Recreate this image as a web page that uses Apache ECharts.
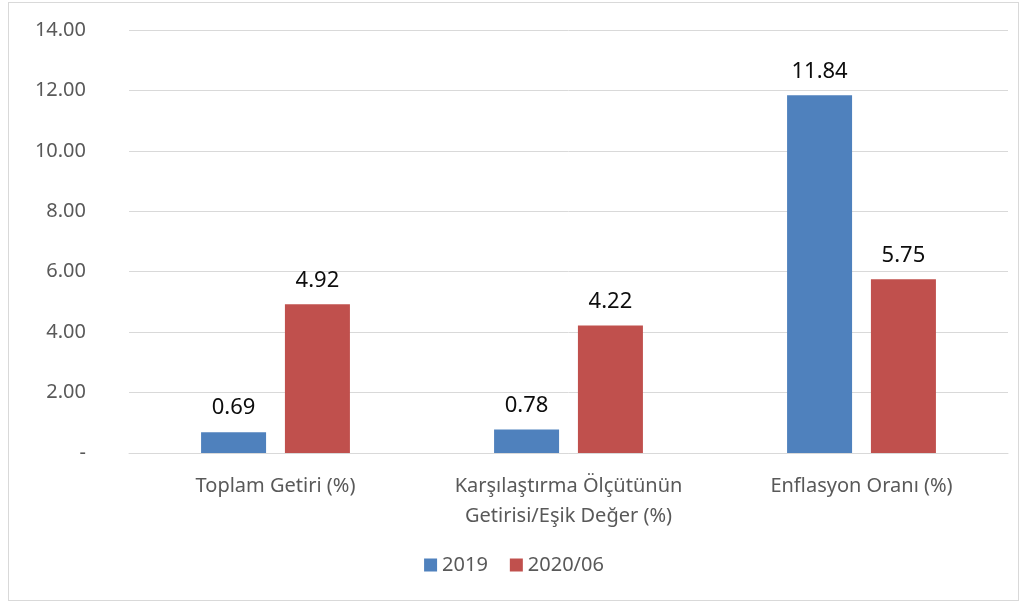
<!DOCTYPE html>
<html>
<head>
<meta charset="utf-8">
<script src="https://cdn.jsdelivr.net/npm/echarts@6/dist/echarts.min.js"></script>
<style>
  html, body { margin: 0; padding: 0; background: #fff; }
  #frame { position: absolute; left: 8px; top: 2px; width: 1011px; height: 599px; border: 1px solid #d9d9d9; box-sizing: border-box; }
  #chart { width: 1028px; height: 606px; }
</style>
</head>
<body>
<div id="frame"></div>
<div id="chart"></div>
<script>
var categories = ['Toplam Getiri (%)', 'Karşılaştırma Ölçütünün\nGetirisi/Eşik Değer (%)', 'Enflasyon Oranı (%)'];
var values2019 = [0.69, 0.78, 11.84];
var values2020 = [4.92, 4.22, 5.75];
var seriesNames = ['2019', '2020/06'];

var myChart = echarts.init(document.getElementById('chart'));
var font = '"Noto Sans", "Open Sans", sans-serif';
option = {
    textStyle: { fontFamily: font },
    legend: {
        data: seriesNames,
        bottom: 26,
        left: 'center',
        itemWidth: 13,
        itemHeight: 13,
        itemGap: 22,
        icon: 'rect',
        textStyle: { fontSize: 20, color: '#595959', fontFamily: font }
    },
    grid: { left: 129, right: 20, top: 30, bottom: 153 },
    xAxis: [
        {
            type: 'category',
            data: categories,
            axisTick: { show: false },
            axisLine: { lineStyle: { color: '#d9d9d9' } },
            axisLabel: { interval: 0, color: '#595959', fontSize: 20, margin: 18, lineHeight: 30, fontFamily: font }
        }
    ],
    yAxis: [
        {
            type: 'value',
            min: 0,
            max: 14,
            interval: 2,
            axisLine: { show: false },
            axisTick: { show: false },
            splitLine: { lineStyle: { color: '#d9d9d9', width: 1 } },
            axisLabel: {
                color: '#595959',
                fontSize: 20,
                margin: 43,
                fontFamily: font,
                formatter: function (value) {
                    return value === 0 ? '-' : value.toFixed(2);
                }
            }
        }
    ],
    series: [
        {
            name: seriesNames[0],
            type: 'bar',
            barWidth: 65,
            barGap: '29%',
            itemStyle: { color: '#4f81bd' },
            label: { show: true, position: 'top', distance: 13, fontSize: 22, color: '#0d0d0d', fontFamily: font,
                formatter: function (p) { return p.value.toFixed(2); } },
            data: values2019
        },
        {
            name: seriesNames[1],
            type: 'bar',
            barWidth: 65,
            itemStyle: { color: '#c0504d' },
            label: { show: true, position: 'top', distance: 13, fontSize: 22, color: '#0d0d0d', fontFamily: font,
                formatter: function (p) { return p.value.toFixed(2); } },
            data: values2020
        }
    ]
};
myChart.setOption(option);
</script>
</body>
</html>
